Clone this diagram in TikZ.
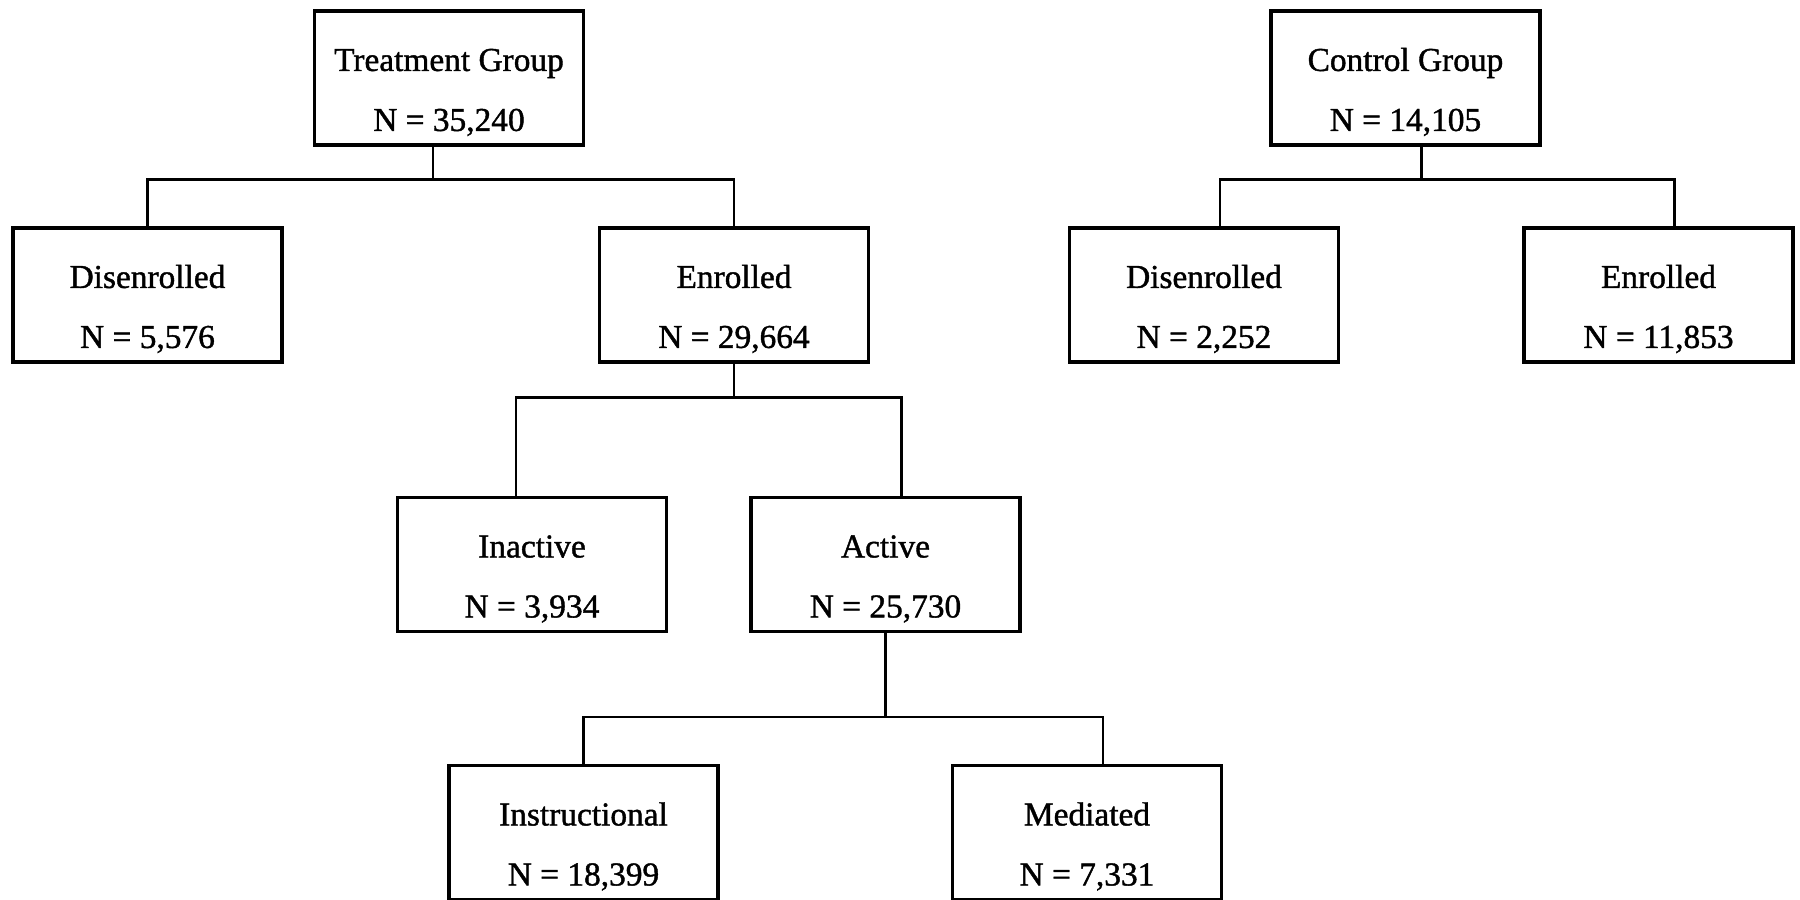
\documentclass[tikz,border=0pt]{standalone}
\usepackage{fontspec}
\setmainfont{Liberation Serif}
\newfontfamily\boxfont[FakeBold=1.2]{Liberation Serif}
\newcommand{\boxstrut}{\rule{0pt}{0.51cm}}
\begin{document}
\begin{tikzpicture}
    \tikzstyle{box} = [rectangle, draw, line width=0.9pt, minimum width=2.69cm, minimum height=1.34cm, inner sep=0pt, align=center, font=\boxfont\fontsize{9.5}{17.07}\selectfont]
    \tikzstyle{link} = [line width=0.8pt]
    \useasboundingbox (0,0) rectangle (18,-9);

    \node (treat) [box] at (4.49,-0.78) {\boxstrut Treatment Group\\N = 35,240};
    \node (tdis) [box] at (1.475,-2.95) {\boxstrut Disenrolled\\N = 5,576};
    \node (tenr) [box] at (7.34,-2.95) {\boxstrut Enrolled\\N = 29,664};
    \node (inact) [box] at (5.32,-5.645) {\boxstrut Inactive\\N = 3,934};
    \node (act) [box] at (8.855,-5.645) {\boxstrut Active\\N = 25,730};
    \node (instr) [box] at (5.835,-8.325) {\boxstrut Instructional\\N = 18,399};
    \node (med) [box] at (10.87,-8.325) {\boxstrut Mediated\\N = 7,331};
    % control group on the right
    \node (ctrl) [box] at (14.055,-0.78) {\boxstrut Control Group\\N = 14,105};
    \node (cdis) [box] at (12.04,-2.95) {\boxstrut Disenrolled\\N = 2,252};
    \node (cenr) [box] at (16.585,-2.95) {\boxstrut Enrolled\\N = 11,853};

    \draw [link] ([xshift=-0.16cm]treat.south) -- ++(0,-0.33) -| (tdis.north);
    \draw [link] ([xshift=-0.16cm]treat.south) -- ++(0,-0.33) -| (tenr.north);
    \draw [link] (tenr.south) -- ++(0,-0.34) -| ([xshift=-0.16cm]inact.north);
    \draw [link] (tenr.south) -- ++(0,-0.34) -| ([xshift=0.16cm]act.north);
    \draw [link] (act.south) -- ++(0,-0.84) -| (instr.north);
    \draw [link] (act.south) -- ++(0,-0.84) -| ([xshift=0.16cm]med.north);
    \draw [link] ([xshift=0.16cm]ctrl.south) -- ++(0,-0.33) -| ([xshift=0.16cm]cdis.north);
    \draw [link] ([xshift=0.16cm]ctrl.south) -- ++(0,-0.33) -| ([xshift=0.16cm]cenr.north);

\end{tikzpicture}
\end{document}
